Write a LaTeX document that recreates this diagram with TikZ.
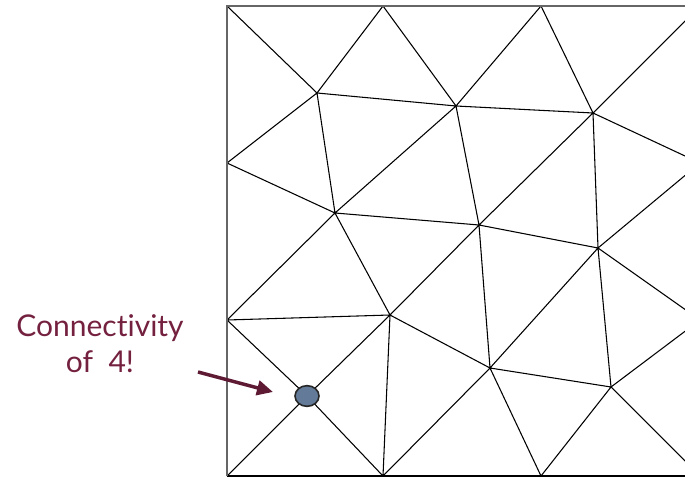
\documentclass[tikz,border=0pt]{standalone}
\usepackage{fontspec}
\setmainfont{Lato}[Ligatures={NoCommon,NoContextual}]
\usetikzlibrary{shapes.geometric,arrows.meta}
\definecolor{maroon}{HTML}{74213F}
\definecolor{arrowc}{HTML}{5E1A33}
\definecolor{dotfill}{HTML}{637B98}
\begin{document}
\begin{tikzpicture}[x=0.75pt,y=-0.75pt,
  mesh/.style={line width=0.8pt,black},
  border/.style={line width=1pt,gray!80!black},
  label/.style={text=maroon,align=center,font=\fontsize{22.5}{27}\selectfont},
  dot/.style={ellipse,draw=black!85,line width=1.2pt,fill=dotfill,minimum width=18pt,minimum height=15.5pt,inner sep=0pt}]
\useasboundingbox (0,0) rectangle (685,478);
\clip (0,0) rectangle (685,478);
% vertices
\coordinate (A1) at (227,6);
\coordinate (A2) at (383,6);
\coordinate (A3) at (541,6);
\coordinate (A4) at (700,6);
\coordinate (B1) at (317,93);
\coordinate (B2) at (456,106);
\coordinate (B3) at (593,113);
\coordinate (L1) at (227,163);
\coordinate (R1) at (700,163);
\coordinate (C1) at (335,213);
\coordinate (C2) at (479,225);
\coordinate (C3) at (598,248);
\coordinate (L2) at (227,320);
\coordinate (R2) at (700,320);
\coordinate (D1) at (390,315);
\coordinate (D2) at (490,368);
\coordinate (D3) at (611,387);
\coordinate (Pc) at (307,396);
\coordinate (E0) at (227,476);
\coordinate (E1) at (383,476);
\coordinate (E2) at (541,476);
\coordinate (E3) at (700,476);
% mesh edges
\draw[mesh] (A1)--(B1) (B1)--(A2) (A2)--(B2) (B1)--(B2) (B2)--(A3) (A3)--(B3)
  (B2)--(B3) (B3)--(A4) (B3)--(R1)
  (B1)--(L1) (B1)--(C1) (L1)--(C1) (C1)--(B2) (C1)--(C2) (C2)--(B2) (C2)--(B3)
  (B3)--(C3) (C2)--(C3) (C3)--(R1) (C3)--(R2)
  (C1)--(L2) (C1)--(D1) (L2)--(D1) (D1)--(C2) (D1)--(D2) (D2)--(C2) (D2)--(C3)
  (D2)--(D3) (D3)--(C3) (D3)--(R2) (D3)--(E3) (D3)--(E2) (D2)--(E2) (D2)--(E1) (D1)--(E1)
  (L2)--(Pc) (D1)--(Pc) (Pc)--(E0) (Pc)--(E1);
% border
\draw[mesh] (E0)--(E3);
\draw[border] (E0)--(A1)--(A4);
% highlighted vertex
\node[dot] (P) at (Pc) {};
% label and arrow
\node[label] (T) at (100,344) {Connectivity\\of\ \ 4!};
\coordinate (S) at (198,372);
\draw[arrowc,line width=2.6pt,-{Triangle[length=12pt,width=11pt]}] (S)--(273,392);
\end{tikzpicture}
\end{document}
